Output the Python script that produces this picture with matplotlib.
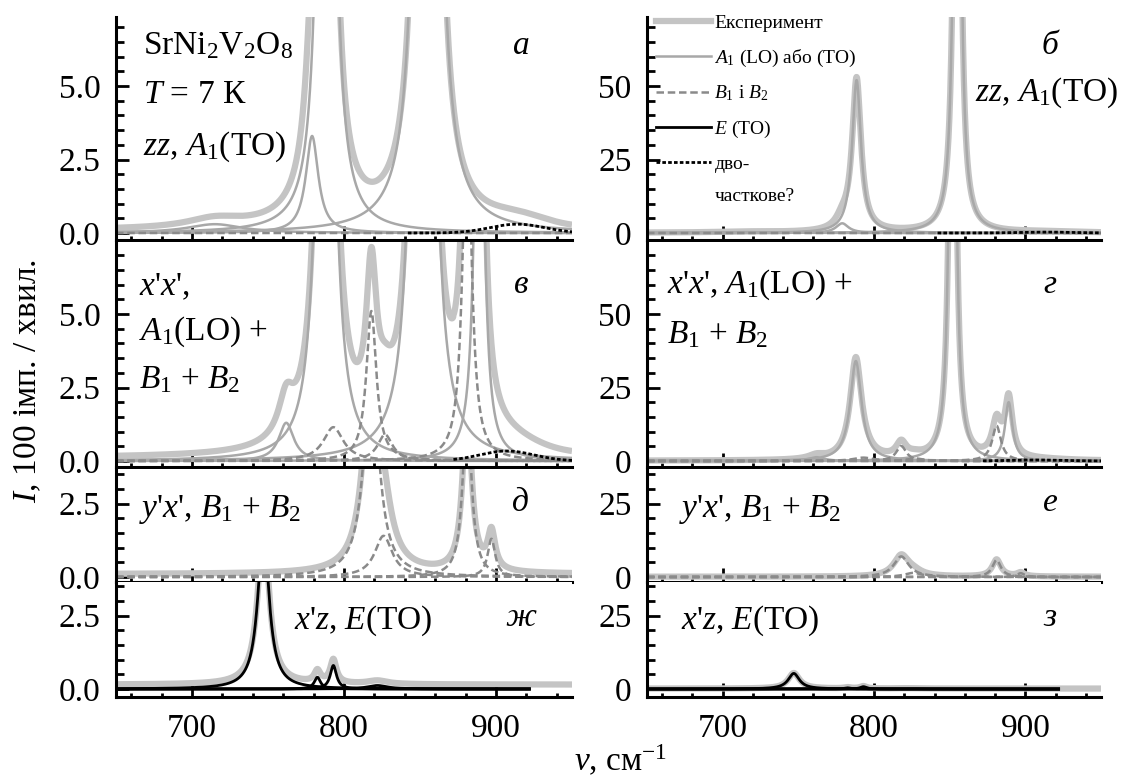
import numpy as np
import matplotlib.pyplot as plt
from matplotlib.lines import Line2D
from matplotlib.ticker import MultipleLocator, FormatStrFormatter

plt.rcParams['font.family'] = ['Liberation Serif', 'DejaVu Serif']
plt.rcParams['mathtext.fontset'] = 'custom'
plt.rcParams['mathtext.rm'] = 'Liberation Serif'
plt.rcParams['mathtext.it'] = 'Liberation Serif:italic'
plt.rcParams['font.size'] = 24

# fitted Lorentzian components:
# centre (cm-1), height (100 counts/min), half width (cm-1)
zz_a1_pos = [715, 779, 788.5, 855]
zz_a1_amp = [0.3, 3.3, 52, 300]
zz_a1_hw = [22, 5, 3.5, 2.0]
zz_two = [914, 0.3, 18, 842]      # centre, height, width, start

xx_a1_pos = [762, 788, 852, 889]
xx_a1_amp = [1.3, 34, 250, 20]
xx_a1_hw = [6, 4.5, 2.0, 3]
xx_b_pos = [793, 818, 827, 881]
xx_b_amp = [1.15, 5.1, 0.9, 12]
xx_b_hw = [8, 4, 6, 3.5]
xx_two = [907, 0.34, 18, 872]

yx_b_pos = [818, 826, 881, 897]
yx_b_amp = [7, 1.4, 5.8, 1.3]
yx_b_hw = [6, 7, 3.4, 3]

xz_e_pos = [747, 782.5, 793, 822]
xz_e_amp = [5.3, 0.4, 0.8, 0.12]
xz_e_hw = [4.5, 2.5, 2.5, 8]
xz_e_end = 922

# flat background under the experimental spectra
backgrounds = [0.08, 0.1, 0.1, 0.15]

# left-column y limits (right column is x10)
ylims = [(-0.24, 7.35), (-0.22, 7.45), (-0.17, 3.68), (-0.27, 3.65)]
letters_left = ['а', 'в', 'д', 'ж']
letters_right = ['б', 'г', 'е', 'з']
letter_y = [0.87, 0.81, 0.70, 0.69]

nu = np.linspace(650, 950, 1501)

C_EXP = '#c4c4c4'
C_A1 = '#a8a8a8'
C_B = '#8a8a8a'


def lor(p, a, w):
    return a * w ** 2 / ((nu - p) ** 2 + w ** 2)


def two_part(p):
    c, a, w, start = p
    y = a * np.exp(-0.5 * ((nu - c) / w) ** 2)
    return np.where(nu >= start, y, np.nan)


rows = [None] * 4

a1 = [lor(p, a, w) for p, a, w in zip(zz_a1_pos, zz_a1_amp, zz_a1_hw)]
tp = two_part(zz_two)
exp0 = sum(a1) + np.nan_to_num(tp) + backgrounds[0]
rows[0] = (exp0, a1, [np.zeros_like(nu)], [], tp)

a1 = [lor(p, a, w) for p, a, w in zip(xx_a1_pos, xx_a1_amp, xx_a1_hw)]
bb = [lor(p, a, w) for p, a, w in zip(xx_b_pos, xx_b_amp, xx_b_hw)]
tp = two_part(xx_two)
exp1 = sum(a1) + sum(bb) + np.nan_to_num(tp) + backgrounds[1]
rows[1] = (exp1, a1, bb, [], tp)

bb = [lor(p, a, w) for p, a, w in zip(yx_b_pos, yx_b_amp, yx_b_hw)]
exp2 = sum(bb) + backgrounds[2]
rows[2] = (exp2, [], bb, [], None)

ee = [lor(p, a, w) for p, a, w in zip(xz_e_pos, xz_e_amp, xz_e_hw)]
exp3 = sum(ee) + backgrounds[3]
ee = [np.where(nu <= xz_e_end, e, np.nan) for e in ee]
rows[3] = (exp3, [], [], ee, None)

fig = plt.figure(figsize=(11.22, 7.76), dpi=100)
W, H = 1122, 776
PX = 29.4                      # pixels per unit on the left column
zero_px = [233, 461, 577, 689]  # pixel row of the zero line in each row
cols = [(116, 572), (647, 1101)]

for c, (x0, x1) in enumerate(cols):
    scale = 1 if c == 0 else 10
    for r in range(4):
        lo, hi = ylims[r]
        top = zero_px[r] - hi * PX
        bot = zero_px[r] - lo * PX
        ax = fig.add_axes([x0 / W, 1 - bot / H, (x1 - x0) / W, (bot - top) / H])
        exp, a1, bb, ee, tp = rows[r]
        ax.plot(nu, exp, color=C_EXP, lw=4.5, solid_capstyle='butt')
        for y in a1:
            ax.plot(nu, y, color=C_A1, lw=1.8)
        for y in bb:
            ax.plot(nu, y, color=C_B, lw=1.8, dashes=(3, 1.5))
        for y in ee:
            ax.plot(nu, y, color='black', lw=2)
        if tp is not None:
            ax.plot(nu, tp, color='black', lw=2, dashes=(1.3, 0.8))

        ax.set_ylim(lo * scale, hi * scale)
        ax.set_xlim(650, 950)
        for s in ['top', 'right']:
            ax.spines[s].set_visible(False)
        for s in ['left', 'bottom']:
            ax.spines[s].set_linewidth(2.2)
        ax.xaxis.set_major_locator(MultipleLocator(100))
        ax.xaxis.set_minor_locator(MultipleLocator(20))
        ax.yaxis.set_major_locator(MultipleLocator(2.5 * scale))
        ax.yaxis.set_minor_locator(MultipleLocator(0.5 * scale))
        if c == 0:
            ax.yaxis.set_major_formatter(FormatStrFormatter('%.1f'))
        else:
            ax.yaxis.set_major_formatter(FormatStrFormatter('%d'))
        ax.tick_params(axis='y', which='major', direction='in', length=9.5, width=2, labelsize=24, pad=11)
        ax.tick_params(axis='y', which='minor', direction='in', length=5.5, width=2)
        ax.tick_params(axis='x', which='major', direction='in', length=10, width=2, labelsize=24, pad=12)
        ax.tick_params(axis='x', which='minor', direction='in', length=3, width=2)
        if r < 3:
            ax.tick_params(axis='x', labelbottom=False)
        lett = letters_left[r] if c == 0 else letters_right[r]
        ax.text(0.888, letter_y[r], lett, transform=ax.transAxes,
                style='italic', ha='center', va='center', fontsize=24)

        if r == 0 and c == 0:
            ax.text(0.06, 0.87, r'SrNi$_2$V$_2$O$_8$', transform=ax.transAxes, va='center')
            ax.text(0.06, 0.65, r'$T$ = 7 К', transform=ax.transAxes, va='center')
            ax.text(0.06, 0.42, r"$zz$, $A_1$(TO)", transform=ax.transAxes, va='center')
        if r == 0 and c == 1:
            ax.text(0.722, 0.66, r"$zz$, $A_1$(TO)", transform=ax.transAxes, va='center')
            handles = [Line2D([], [], color=C_EXP, lw=4.5),
                       Line2D([], [], color=C_A1, lw=1.8),
                       Line2D([], [], color=C_B, lw=1.8, dashes=(3, 1.5)),
                       Line2D([], [], color='black', lw=2),
                       Line2D([], [], color='black', lw=2, dashes=(1.3, 0.8)),
                       Line2D([], [], color='none')]
            labels = ['Експеримент', r'$A_1$ (LO) або (TO)', r'$B_1$ і $B_2$',
                      r'$E$ (TO)', 'дво-', 'часткове?']
            ax.legend(handles, labels, loc='upper left', bbox_to_anchor=(0.02, 1.01),
                      frameon=False, fontsize=14, handlelength=2.8, handletextpad=0.2,
                      labelspacing=0.78, borderpad=0, borderaxespad=0)
        if r == 1:
            if c == 0:
                ax.text(0.05, 0.8, r"$x$'$x$',", transform=ax.transAxes, va='center')
                ax.text(0.05, 0.6, r"$A_1$(LO) +", transform=ax.transAxes, va='center')
                ax.text(0.05, 0.39, r"$B_1$ + $B_2$", transform=ax.transAxes, va='center')
            else:
                ax.text(0.045, 0.81, r"$x$'$x$', $A_1$(LO) +", transform=ax.transAxes, va='center')
                ax.text(0.045, 0.59, r"$B_1$ + $B_2$", transform=ax.transAxes, va='center')
        if r == 2:
            xt = 0.05 if c == 0 else 0.07
            ax.text(xt, 0.64, r"$y$'$x$', $B_1$ + $B_2$", transform=ax.transAxes, va='center')
        if r == 3:
            xt = 0.39 if c == 0 else 0.075
            ax.text(xt, 0.66, r"$x$'$z$, $E$(TO)", transform=ax.transAxes, va='center')

fig.text(0.025, 0.509, r'$I$, 100 імп. / хвил.', rotation=90, ha='center', va='center', fontsize=24)
fig.text(0.553, 0.02, r'$\nu$, см$^{-1}$', ha='center', va='center', fontsize=24)

fig.savefig('out.png', dpi=100)
